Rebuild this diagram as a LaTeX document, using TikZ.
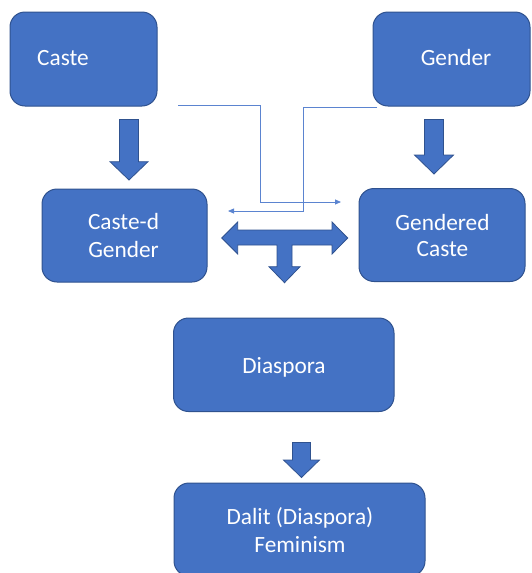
\documentclass[tikz,border=0pt]{standalone}
\usepackage{fontspec}
\setmainfont{Carlito}
\usetikzlibrary{arrows.meta}
\definecolor{ofblue}{HTML}{4472C4}
\definecolor{ofedge}{HTML}{2F528F}
\definecolor{linkblue}{HTML}{5B84D0}
\begin{document}
\begin{tikzpicture}[x=1pt,y=-1pt,
  box/.style={draw=ofedge, fill=ofblue, line width=1pt, rounded corners=15pt, inner sep=0pt},
  lbl/.style={text=white, font=\fontsize{23.3}{28}\selectfont, inner sep=0pt, anchor=base},
  blk/.style={draw=ofedge, fill=ofblue, line width=0.8pt, line join=miter},
  link/.style={draw=linkblue, line width=0.8pt, -{Triangle[length=6pt,width=5pt]}}]
\path[use as bounding box] (0,0) rectangle (531,573);
\clip (0,0) rectangle (531,573);

% boxes
\node[box, minimum width=147pt, minimum height=94pt] (caste) at (83.5,59) {};
\node[box, minimum width=157pt, minimum height=94pt] (gender) at (451.5,59) {};
\node[box, minimum width=165pt, minimum height=93pt] (casted) at (124.5,235.5) {};
\node[box, minimum width=166pt, minimum height=93pt] (gendered) at (442,235) {};
\node[box, minimum width=220.5pt, minimum height=93.5pt] (diaspora) at (283.75,364.75) {};
\node[box, minimum width=251pt, minimum height=93pt] (dalit) at (299.5,529.5) {};

% labels
\node[lbl, anchor=base west] (tcaste) at (37,65.7) {Caste};
\node[lbl] (tgender) at (456,65.3) {Gender};
\node[lbl] (tcasted1) at (123.5,229.3) {Caste-d};
\node[lbl] (tcasted2) at (123.5,257.3) {Gender};
\node[lbl] (tgendered1) at (442.5,230) {Gendered};
\node[lbl] (tgendered2) at (442.5,256.7) {Caste};
\node[lbl] (tdiaspora) at (284,373.3) {Diaspora};
\node[lbl] (tdalit1) at (300,524.3) {Dalit (Diaspora)};
\node[lbl] (tdalit2) at (300,552.3) {Feminism};

% block arrows
\draw[blk] (119.5,119.5) -- (138.5,119.5) -- (138.5,161.7) -- (148,161.7) -- (129,180) -- (110,161.7) -- (119.5,161.7) -- cycle;
\draw[blk] (424.5,119.5) -- (443.5,119.5) -- (443.5,155) -- (453.5,155) -- (434,174) -- (414.5,155) -- (424.5,155) -- cycle;
\draw[blk] (292.5,442.5) -- (310.5,442.5) -- (310.5,460) -- (319.5,460) -- (301.5,477.5) -- (283.5,460) -- (292.5,460) -- cycle;
\draw[blk] (221.7,238) -- (237.7,222) -- (237.7,230) -- (332,230) -- (332,222) -- (347.7,238) -- (332,254) -- (332,245) -- (292,245) -- (292,266.7) -- (300,266.7) -- (284.5,282.7) -- (269,266.7) -- (277,266.7) -- (277,245) -- (237.7,245) -- (237.7,254) -- cycle;

% thin connectors
\coordinate (l1s) at (178,105.5);
\coordinate (l1e) at (341,202);
\coordinate (l2s) at (377,107);
\coordinate (l2e) at (228,211);
\draw[link] (l1s) -- (260,105.5) -- (260,202) -- (l1e);
\draw[link] (l2s) -- (303,107) -- (303,211) -- (l2e);
\end{tikzpicture}
\end{document}
